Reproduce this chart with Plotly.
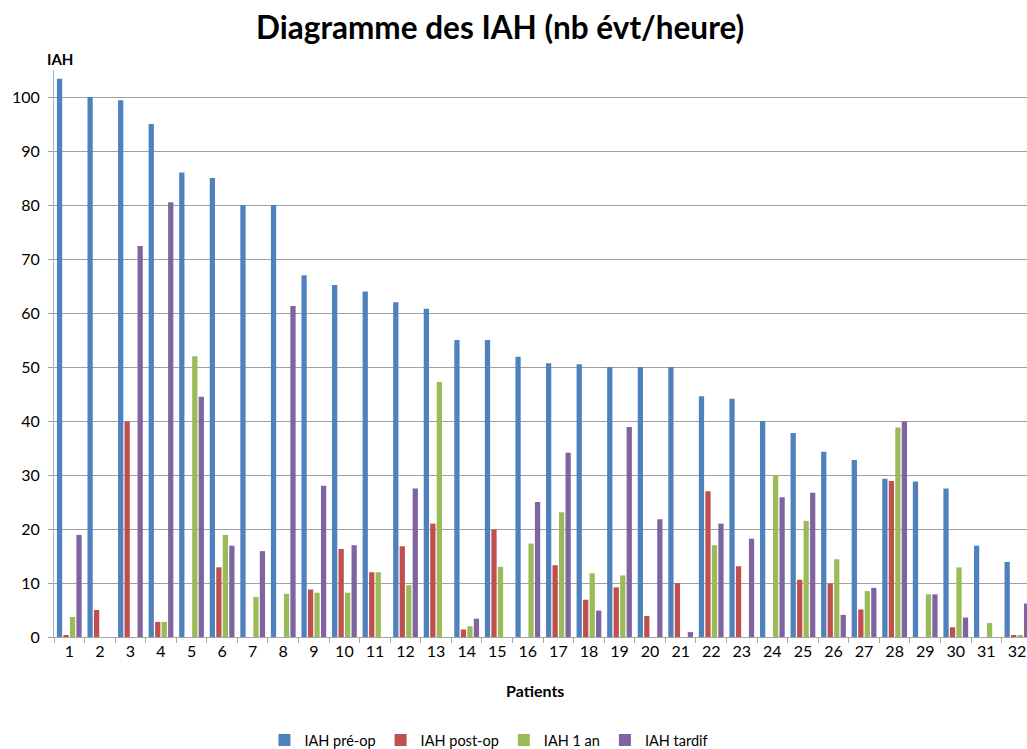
import plotly.graph_objects as go

patients = [str(i) for i in range(1, 33)]
iah_pre = [103.4, 100, 99.4, 95, 86, 85, 80, 80, 67, 65.2, 64, 62, 60.8, 55, 55, 51.9,
           50.7, 50.5, 50, 50, 50, 44.6, 44.1, 40, 37.8, 34.3, 32.8, 29.3, 28.8, 27.5, 16.9, 13.9]
iah_post = [0.3, 5.0, 39.9, 2.8, None, 12.9, None, None, 8.8, 16.3, 12.0, 16.8, 21.0, 1.4, 19.9, None,
            13.3, 6.9, 9.2, 3.9, 10.0, 27.0, 13.1, None, 10.6, 9.9, 5.1, 28.9, None, 1.8, None, 0.2]
iah_1an = [3.7, None, None, 2.8, 52.0, 18.9, 7.4, 8.0, 8.2, 8.2, 12.0, 9.6, 47.2, 2.0, 13.0, 17.3,
           23.1, 11.8, 11.4, None, None, 17.0, None, 30.0, 21.5, 14.4, 8.5, 38.8, 7.9, 12.9, 2.6, 0.3]
iah_tardif = [18.9, None, 72.4, 80.5, 44.5, 16.9, 15.9, 61.3, 28.0, 17.0, None, 27.5, None, 3.4, None, 25.0,
              34.1, 4.9, 38.9, 21.8, 0.9, 21.0, 18.2, 25.9, 26.7, 4.1, 9.1, 39.9, 7.9, 3.6, None, 6.2]

series = [
    ("IAH pré-op", iah_pre, "#4F81BD"),
    ("IAH post-op", iah_post, "#C0504D"),
    ("IAH 1 an", iah_1an, "#9BBB59"),
    ("IAH tardif", iah_tardif, "#8064A2"),
]

FONT = "Lato"
fig = go.Figure()
for name, vals, col in series:
    fig.add_trace(go.Bar(x=patients, y=vals, name=name, marker_color=col,
                         marker_line_width=0))

fig.update_layout(
    width=1027, height=749,
    margin=dict(l=54.4, r=0, t=70, b=112, autoexpand=False),
    paper_bgcolor="white", plot_bgcolor="white",
    barmode="group", bargap=0.15, bargroupgap=0.19,
    font=dict(family=FONT, size=16, color="#000000"),
    title=dict(text="<b>Diagramme des IAH (nb évt/heure)</b>",
               x=0.487, xanchor="center", y=0.963, yanchor="middle",
               font=dict(family=FONT, size=31.5, color="#000000")),
    showlegend=True,
    legend=dict(orientation="h", x=0.447, xanchor="center", y=-0.182, yanchor="middle",
                font=dict(family=FONT, size=14.5, color="#000000"), itemwidth=30,
                tracegroupgap=0, traceorder="normal"),
)
fig.update_xaxes(
    type="category", range=[-0.5, 31.33],
    showgrid=False, showline=True, linecolor="#A6A6A6", linewidth=1,
    ticks="outside", tickson="boundaries", ticklen=5, tickcolor="#A6A6A6",
    tickfont=dict(family=FONT, size=16, color="#000000"),
)
fig.update_yaxes(
    range=[0, 105], tickvals=list(range(0, 101, 10)),
    showgrid=True, gridcolor="#A0A0A0", gridwidth=1,
    showline=True, linecolor="#95B3D7", linewidth=1,
    ticks="outside", ticklen=5, tickcolor="#A0A0A0",
    ticklabelstandoff=5,
    tickfont=dict(family=FONT, size=16, color="#000000"),
    zeroline=False,
)
fig.add_annotation(text="<b>IAH</b>", xref="paper", yref="paper", x=0.006, y=1.019,
                   showarrow=False, xanchor="center", yanchor="middle",
                   font=dict(family=FONT, size=15, color="#000000"))
fig.add_annotation(text="<b>Patients</b>", xref="paper", yref="paper", x=0.494, y=-0.0935,
                   showarrow=False, xanchor="center", yanchor="middle",
                   font=dict(family=FONT, size=16, color="#000000"))

fig.write_html(
    "out.html",
    config={"displayModeBar": False},
    post_script="document.body.style.margin='0px';document.body.style.overflow='hidden';",
)
